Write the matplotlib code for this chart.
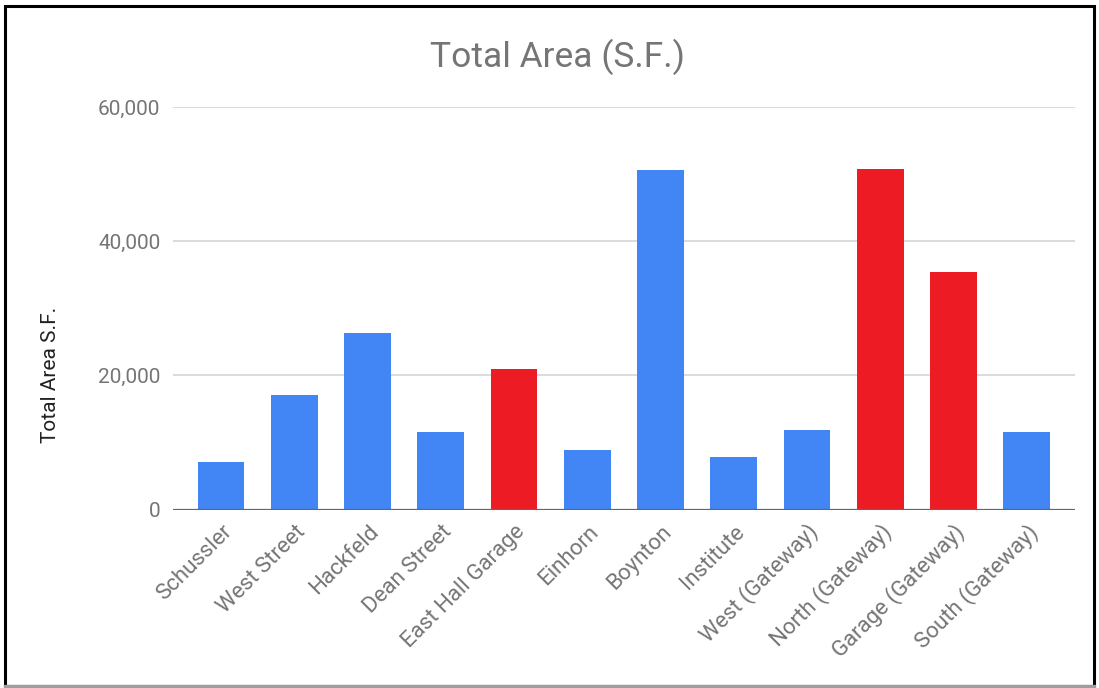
import matplotlib
matplotlib.use("Agg")
import matplotlib.pyplot as plt
import matplotlib.transforms as mtransforms
from matplotlib.patches import Rectangle
from matplotlib.lines import Line2D
from matplotlib.ticker import FuncFormatter

plt.rcParams['font.family'] = ['Roboto', 'DejaVu Sans']

buildings = ['Schussler', 'West Street', 'Hackfeld', 'Dean Street', 'East Hall Garage',
             'Einhorn', 'Boynton', 'Institute', 'West (Gateway)', 'North (Gateway)',
             'Garage (Gateway)', 'South (Gateway)']
area_sf = [7100, 17100, 26400, 11600, 20900, 8900, 50700, 7800, 11900, 50800, 35400, 11600]
highlight = [False, False, False, False, True, False, False, False, False, True, True, False]

BLUE = '#4285F4'
RED = '#ED1C24'
GREY = '#757575'

fig = plt.figure(figsize=(10.99, 6.88), dpi=100)
ax = fig.add_axes([0.1574, 0.2594, 0.8206, 0.5846])

x = list(range(len(buildings)))
colors = [RED if h else BLUE for h in highlight]
ax.bar(x, area_sf, width=0.64, color=colors, zorder=3)

ax.set_xlim(-0.655, len(buildings) - 1 + 0.655)
ax.set_ylim(0, 60000)
ax.set_yticks([0, 20000, 40000, 60000])
ax.yaxis.set_major_formatter(FuncFormatter(lambda v, p: f'{int(v):,}'))
ax.grid(axis='y', color='#d9d9d9', linewidth=1.3, zorder=0)
ax.axhline(0, color='#666666', linewidth=1.6, zorder=4)

for s in ax.spines.values():
    s.set_visible(False)
ax.tick_params(axis='both', length=0, colors=GREY, labelsize=15)
ax.tick_params(axis='y', pad=9)
ax.tick_params(axis='x', pad=0, labelsize=16)
ax.set_xticks(x)
ax.set_xticklabels(buildings, rotation=45, ha='right', va='center', rotation_mode='anchor')

# shift the slanted labels so their ends sit just right of and below each bar
shift = mtransforms.ScaledTranslation(0.08, -0.19, fig.dpi_scale_trans)
for lbl in ax.get_xticklabels():
    lbl.set_transform(lbl.get_transform() + shift)

fig.text(0.507, 0.918, 'Total Area (S.F.)', ha='center', va='center',
         fontsize=25.5, color=GREY)
fig.text(0.0464, 0.455, 'Total Area S.F.', ha='center', va='center',
         rotation=90, fontsize=15, color='#222222')

# frame around the whole figure
fig.patches.append(Rectangle((0.005, 0.003), 0.99, 0.988, transform=fig.transFigure,
                             fill=False, edgecolor='black', linewidth=2.2))
fig.lines.append(Line2D([0.005, 0.995], [0.003, 0.003], transform=fig.transFigure,
                        color='#9e9e9e', linewidth=2.4))

fig.savefig('out.png', dpi=100, facecolor='white')
